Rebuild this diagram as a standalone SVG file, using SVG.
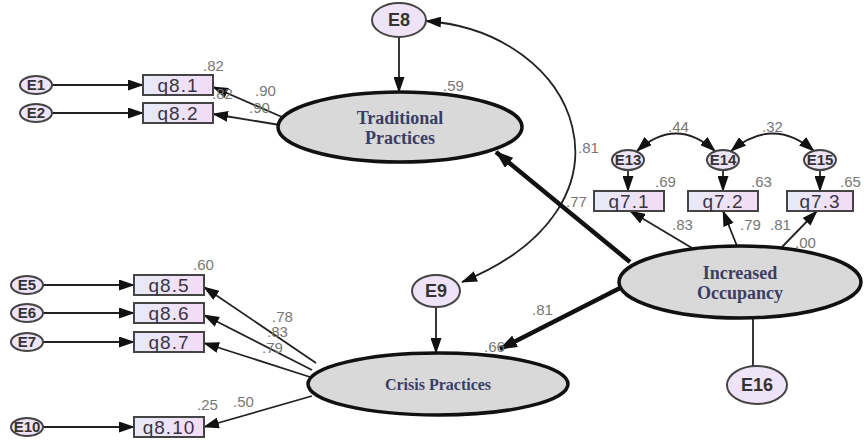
<svg xmlns="http://www.w3.org/2000/svg" width="864" height="440" viewBox="0 0 864 440">
<defs>
<linearGradient id="bg" x1="0" y1="0" x2="1" y2="0"><stop offset="0" stop-color="#e7eaf8"/><stop offset="1" stop-color="#f3dcf5"/></linearGradient>
<marker id="ah" markerUnits="userSpaceOnUse" markerWidth="16" markerHeight="11" refX="15" refY="5.5" orient="auto"><path d="M0,0 L16,5.5 L0,11 Z" fill="#111"/></marker>
<marker id="ahs" markerUnits="userSpaceOnUse" markerWidth="16" markerHeight="11" refX="1" refY="5.5" orient="auto"><path d="M16,0 L0,5.5 L16,11 Z" fill="#111"/></marker>
<marker id="ahb" markerUnits="userSpaceOnUse" markerWidth="18" markerHeight="13" refX="17" refY="6.5" orient="auto"><path d="M0,0 L18,6.5 L0,13 Z" fill="#111"/></marker>
</defs>
<style>
.lat{fill:#d9d9d9;stroke:#111;stroke-width:3.5}
.err{fill:#efe4f7;stroke:#444;stroke-width:2}
.box{fill:url(#bg);stroke:#444;stroke-width:2}
.lt{font-family:"Liberation Serif",serif;font-weight:bold;font-size:18px;fill:#3a3d64;text-anchor:middle}
.bt{font-family:"Liberation Sans",Arial,sans-serif;font-size:19px;letter-spacing:1px;fill:#3a3344;text-anchor:middle}
.et{font-family:"Liberation Sans",Arial,sans-serif;font-weight:bold;font-size:18px;fill:#333;text-anchor:middle}
.es{font-family:"Liberation Sans",Arial,sans-serif;font-weight:bold;font-size:15px;fill:#333;text-anchor:middle}
.nl{font-family:"Liberation Sans",Arial,sans-serif;font-size:15px;fill:#777}
.c{fill:none;stroke:#222;stroke-width:1.8}
.t{fill:none;stroke:#111;stroke-width:4.5}
</style>
<g id="connectors">
<line class="c" x1="52" y1="85" x2="143" y2="85" marker-end="url(#ah)"/>
<line class="c" x1="52" y1="113" x2="143" y2="113" marker-end="url(#ah)"/>
<line class="c" x1="282" y1="117" x2="213" y2="87" marker-end="url(#ah)"/>
<line class="c" x1="280" y1="125" x2="213" y2="114" marker-end="url(#ah)"/>
<line class="c" x1="399" y1="37" x2="399" y2="92" marker-end="url(#ah)"/>
<path class="c" d="M 462,282 C 650,205 580,32 426,21" marker-start="url(#ahs)" marker-end="url(#ah)"/>
<line class="c" x1="436" y1="307" x2="436" y2="353" marker-end="url(#ah)"/>
<line class="t" x1="630" y1="262" x2="496" y2="152" marker-end="url(#ahb)"/>
<line class="t" x1="624" y1="286" x2="500" y2="349" marker-end="url(#ahb)"/>
<line class="c" x1="628" y1="170" x2="628" y2="191" marker-end="url(#ah)"/>
<line class="c" x1="723" y1="170" x2="723" y2="191" marker-end="url(#ah)"/>
<line class="c" x1="820" y1="170" x2="820" y2="191" marker-end="url(#ah)"/>
<path class="c" d="M 637,151 Q 676,116 715,151" stroke-width="2.2" marker-start="url(#ahs)" marker-end="url(#ah)"/>
<path class="c" d="M 731,151 Q 773,116 814,151" stroke-width="2.2" marker-start="url(#ahs)" marker-end="url(#ah)"/>
<line class="c" x1="692" y1="248" x2="630" y2="211" marker-end="url(#ah)"/>
<line class="c" x1="737" y1="246" x2="723" y2="211" marker-end="url(#ah)"/>
<line class="c" x1="782" y1="247" x2="817" y2="211" marker-end="url(#ah)"/>
<line class="c" x1="753" y1="366" x2="753" y2="318"/>
<line class="c" x1="316" y1="363" x2="204" y2="287" marker-end="url(#ah)"/>
<line class="c" x1="312" y1="370" x2="204" y2="315" marker-end="url(#ah)"/>
<line class="c" x1="310" y1="377" x2="204" y2="343" marker-end="url(#ah)"/>
<line class="c" x1="312" y1="396" x2="204" y2="427" marker-end="url(#ah)"/>
<line class="c" x1="43" y1="285" x2="134" y2="285" marker-end="url(#ah)"/>
<line class="c" x1="43" y1="313" x2="134" y2="313" marker-end="url(#ah)"/>
<line class="c" x1="43" y1="342" x2="134" y2="342" marker-end="url(#ah)"/>
<line class="c" x1="43" y1="427" x2="134" y2="427" marker-end="url(#ah)"/>
</g>
<g id="labels">
<text class="nl" x="203" y="71">.82</text>
<text class="nl" x="212" y="99">.82</text>
<text class="nl" x="255" y="96">.90</text>
<text class="nl" x="249" y="113">.90</text>
<text class="nl" x="443" y="91">.59</text>
<text class="nl" x="578" y="153">.81</text>
<text class="nl" x="566" y="207">.77</text>
<text class="nl" x="668" y="132">.44</text>
<text class="nl" x="762" y="132">.32</text>
<text class="nl" x="655" y="187">.69</text>
<text class="nl" x="751" y="187">.63</text>
<text class="nl" x="840" y="187">.65</text>
<text class="nl" x="672" y="230">.83</text>
<text class="nl" x="740" y="230">.79</text>
<text class="nl" x="770" y="230">.81</text>
<text class="nl" x="795" y="248">.00</text>
<text class="nl" x="532" y="315">.81</text>
<text class="nl" x="484" y="352">.66</text>
<text class="nl" x="193" y="270">.60</text>
<text class="nl" x="272" y="322">.78</text>
<text class="nl" x="267" y="337">.83</text>
<text class="nl" x="262" y="353">.79</text>
<text class="nl" x="197" y="410">.25</text>
<text class="nl" x="233" y="407">.50</text>
</g>
<g id="E1"><ellipse class="err" cx="36" cy="85" rx="16" ry="9"/><text class="es" x="36" y="90">E1</text></g>
<g id="E2"><ellipse class="err" cx="36" cy="113" rx="16" ry="9"/><text class="es" x="36" y="118">E2</text></g>
<g id="q8.1"><rect class="box" x="143" y="75" width="70" height="20"/><text class="bt" x="178" y="92">q8.1</text></g>
<g id="q8.2"><rect class="box" x="143" y="103" width="70" height="20"/><text class="bt" x="178" y="120">q8.2</text></g>
<g id="E8"><ellipse class="err" cx="399" cy="20" rx="27" ry="17"/><text class="et" x="399" y="26">E8</text></g>
<g id="TraditionalPractices"><ellipse class="lat" cx="400" cy="127" rx="122" ry="35"/><text class="lt" x="400" y="124">Traditional</text><text class="lt" x="400" y="144">Practices</text></g>
<g id="E13"><ellipse class="err" cx="628" cy="160" rx="16" ry="10"/><text class="es" x="628" y="165">E13</text></g>
<g id="E14"><ellipse class="err" cx="723" cy="160" rx="16" ry="10"/><text class="es" x="723" y="165">E14</text></g>
<g id="E15"><ellipse class="err" cx="820" cy="160" rx="16" ry="10"/><text class="es" x="820" y="165">E15</text></g>
<g id="q7.1"><rect class="box" x="594" y="191" width="70" height="20"/><text class="bt" x="629" y="208">q7.1</text></g>
<g id="q7.2"><rect class="box" x="688" y="191" width="70" height="20"/><text class="bt" x="723" y="208">q7.2</text></g>
<g id="q7.3"><rect class="box" x="787" y="191" width="66" height="20"/><text class="bt" x="820" y="208">q7.3</text></g>
<g id="IncreasedOccupancy"><ellipse class="lat" cx="740" cy="282" rx="121" ry="36"/><text class="lt" x="740" y="279">Increased</text><text class="lt" x="740" y="299">Occupancy</text></g>
<g id="E16"><ellipse class="err" cx="757" cy="385" rx="30" ry="19"/><text class="et" x="757" y="391">E16</text></g>
<g id="E9"><ellipse class="err" cx="436" cy="291" rx="24" ry="16"/><text class="et" x="436" y="297">E9</text></g>
<g id="CrisisPractices"><ellipse class="lat" cx="438" cy="384" rx="130" ry="31"/><text class="lt" x="438" y="390" style="font-size:16px">Crisis Practices</text></g>
<g id="E5"><ellipse class="err" cx="27" cy="285" rx="16" ry="9"/><text class="es" x="27" y="290">E5</text></g>
<g id="E6"><ellipse class="err" cx="27" cy="313" rx="16" ry="9"/><text class="es" x="27" y="318">E6</text></g>
<g id="E7"><ellipse class="err" cx="27" cy="342" rx="16" ry="9"/><text class="es" x="27" y="347">E7</text></g>
<g id="E10"><ellipse class="err" cx="27" cy="427" rx="16" ry="9"/><text class="es" x="27" y="432">E10</text></g>
<g id="q8.5"><rect class="box" x="134" y="275" width="70" height="20"/><text class="bt" x="169" y="292">q8.5</text></g>
<g id="q8.6"><rect class="box" x="134" y="303" width="70" height="20"/><text class="bt" x="169" y="320">q8.6</text></g>
<g id="q8.7"><rect class="box" x="134" y="332" width="70" height="20"/><text class="bt" x="169" y="349">q8.7</text></g>
<g id="q8.10"><rect class="box" x="134" y="417" width="70" height="20"/><text class="bt" x="169" y="434">q8.10</text></g>
</svg>
